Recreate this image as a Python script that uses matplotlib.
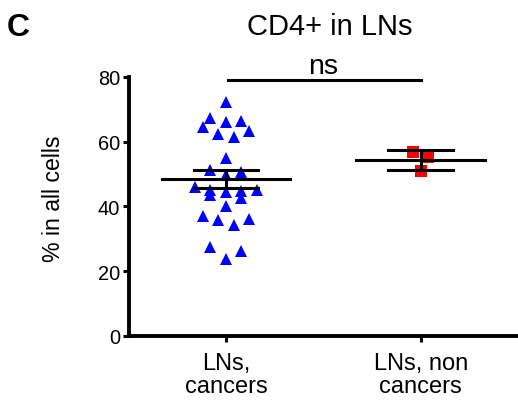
import numpy as np
import matplotlib
matplotlib.use("Agg")
import matplotlib.pyplot as plt

plt.rcParams['font.family'] = ['Liberation Sans', 'DejaVu Sans']

# CD4+ share (% in all cells) per lymph node sample
groups = ['LNs,\ncancers', 'LNs, non\ncancers']
cancer_vals = [72.2, 66.3, 67.4, 66.1, 64.5, 62.4, 61.5, 63.2, 55.0,
               50.6, 51.2, 49.6, 44.7, 43.6, 45.1, 44.9, 46.1, 44.3,
               42.6, 40.1, 36.9, 35.8, 34.2, 36.0, 27.6, 26.3, 23.9]
noncancer_vals = [56.8, 55.1, 50.9]
group_mean = [48.5, 54.2]
group_err = [2.7, 3.1]
sig_label = 'ns'


def swarm_offsets(vals, row_h=4.0, step=0.0395):
    # bin sorted values into rows and fan each row out from the centre
    vals = np.asarray(vals)
    order = np.argsort(vals)
    offs = np.zeros(len(vals))
    i = 0
    while i < len(order):
        j = i
        while j < len(order) and vals[order[j]] - vals[order[i]] < row_h:
            j += 1
        row = order[i:j]
        n = len(row)
        for k, idx in enumerate(row):
            if n % 2:
                slot = 0 if k == 0 else ((k + 1) // 2) * 2 * (1 if k % 2 else -1)
            else:
                slot = (k // 2 * 2 + 1) * (1 if k % 2 == 0 else -1)
            offs[idx] = slot * step
        i = j
    return offs


fig = plt.figure(figsize=(5.18, 4.02), dpi=100)
ax = fig.add_axes([128.5 / 518, 65 / 402, 389.5 / 518, 259.3 / 402])

x0 = 0 + swarm_offsets(cancer_vals)
x1 = 1 + swarm_offsets(noncancer_vals)
ax.plot(x0, cancer_vals, '^', color='#0000ff', ms=8.2, mew=0, clip_on=False, zorder=2)
ax.plot(x1, noncancer_vals, 's', color='#ff0000', ms=8.2, mew=0, clip_on=False, zorder=2)

# mean line with error bars
for i in range(2):
    m, e = group_mean[i], group_err[i]
    ax.plot([i - 0.33, i + 0.33], [m, m], color='black', lw=2.2, zorder=3)
    ax.plot([i - 0.165, i + 0.165], [m + e, m + e], color='black', lw=2.2, zorder=3)
    ax.plot([i - 0.165, i + 0.165], [m - e, m - e], color='black', lw=2.2, zorder=3)
    ax.plot([i, i], [m - e, m + e], color='black', lw=2.2, zorder=3)

# significance bar
sig_y = 79
ax.plot([0.01, 1.0], [sig_y, sig_y], color='black', lw=2.2, clip_on=False)
ax.annotate(sig_label, xy=(0.5, sig_y), xytext=(0, 5.3), textcoords='offset points',
            ha='center', va='baseline', fontsize=20.5, annotation_clip=False)

ax.set_xlim(-0.5, 1.5)
ax.set_ylim(0, 80)
ax.set_yticks([0, 20, 40, 60, 80])
ax.set_xticks([0, 1])
ax.set_xticklabels(groups, linespacing=1.05)
for s in ['top', 'right']:
    ax.spines[s].set_visible(False)
for s in ['left', 'bottom']:
    ax.spines[s].set_linewidth(2.8)
ax.tick_params(axis='y', direction='out', length=4, width=2.2, labelsize=14.4, pad=2)
ax.tick_params(axis='x', direction='out', length=4.5, width=2.2, labelsize=17, pad=7)

fig.text(53 / 518, 1 - 199 / 402, '% in all cells', rotation=90, ha='center', va='center',
         fontsize=16.7)
fig.text(330 / 518, 1 - 35 / 402, 'CD4+ in LNs', ha='center', va='baseline', fontsize=21)
fig.text(7 / 518, 1 - 36 / 402, 'C', ha='left', va='baseline', fontsize=23, fontweight='bold')

fig.savefig('out.png', dpi=100)
